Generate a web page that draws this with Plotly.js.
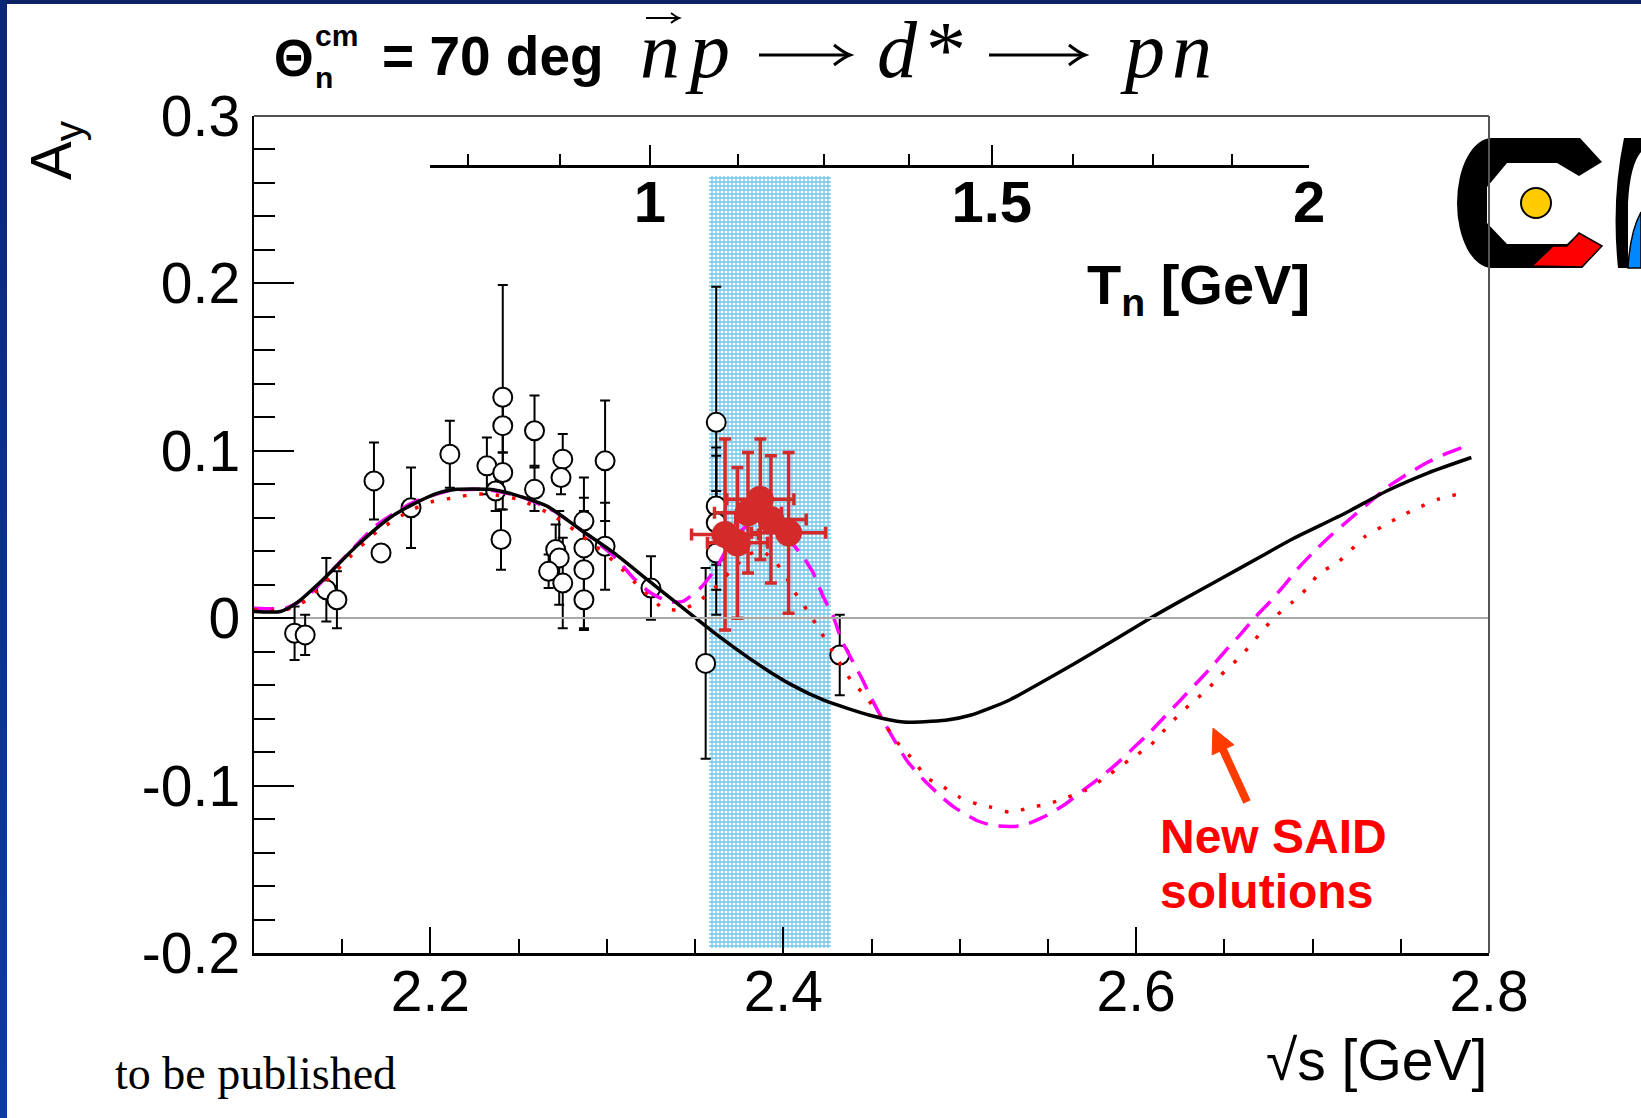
<!DOCTYPE html>
<html><head><meta charset="utf-8">
<script src="https://cdn.plot.ly/plotly-3.0.1.min.js"></script>
<style>
html,body{margin:0;padding:0;background:#fff;}
#chart{width:1641px;height:1118px;position:absolute;left:0;top:0;}
#bandTop{position:absolute;left:0;top:0;width:1641px;height:4px;background:#0d2262;}
#bandLeft{position:absolute;left:0;top:0;width:7px;height:1118px;background:linear-gradient(#0b2675,#0b3ca8);}
</style></head><body>
<div id="chart"></div>
<div id="bandTop"></div><div id="bandLeft"></div>
<script>
// ---- data: older open-circle measurements (sqrt(s), Ay, error)
const dataX = [2.123, 2.129, 2.141, 2.147, 2.168, 2.172, 2.189, 2.211, 2.232, 2.237, 2.241, 2.241, 2.241, 2.240,
               2.259, 2.259, 2.275, 2.274, 2.299, 2.299, 2.287, 2.287, 2.287, 2.287, 2.271, 2.273, 2.267, 2.275,
               2.325, 2.362, 2.356, 2.362, 2.362, 2.362, 2.432];
const dataY = [-0.009, -0.010, 0.017, 0.011, 0.082, 0.039, 0.066, 0.098, 0.091, 0.076, 0.132, 0.115, 0.087, 0.047,
               0.112, 0.077, 0.095, 0.084, 0.094, 0.043, 0.058, 0.042, 0.029, 0.011, 0.041, 0.036, 0.028, 0.021,
               0.018, 0.117, -0.027, 0.067, 0.057, 0.039, -0.022];
const dataErr = [0.016, 0.012, 0.019, 0.017, 0.023, 0.0, 0.024, 0.020, 0.017, 0.012, 0.067, 0.016, 0.012, 0.018,
                 0.021, 0.013, 0.015, 0.010, 0.036, 0.026, 0.026, 0.030, 0.035, 0.018, 0.015, 0.028, 0.010, 0.027,
                 0.019, 0.081, 0.057, 0.035, 0.040, 0.037, 0.024];

// ---- new WASA measurements (red)
const wasaX    = [2.367, 2.374, 2.380, 2.387, 2.393, 2.403];
const wasaY    = [0.050, 0.045, 0.063, 0.071, 0.059, 0.051];
const wasaErrX = [0.019, 0.017, 0.019, 0.019, 0.020, 0.021];
const wasaErrY = [0.057, 0.045, 0.036, 0.036, 0.038, 0.048];

// ---- curves
const saidOldX = [2.100, 2.115, 2.124, 2.139, 2.158, 2.177, 2.190, 2.205, 2.215, 2.233, 2.247, 2.266, 2.285, 2.304,
                  2.323, 2.342, 2.360, 2.385, 2.405, 2.423, 2.449, 2.468, 2.492, 2.506, 2.528, 2.552, 2.575, 2.608,
                  2.623, 2.647, 2.671, 2.688, 2.719, 2.742, 2.766, 2.790];
const saidOldY = [0.004, 0.004, 0.009, 0.023, 0.043, 0.060, 0.068, 0.075, 0.077, 0.077, 0.074, 0.067, 0.053, 0.039,
                  0.023, 0.007, -0.008, -0.027, -0.040, -0.049, -0.058, -0.062, -0.061, -0.058, -0.049, -0.035, -0.021, 0.000,
                  0.009, 0.023, 0.037, 0.047, 0.063, 0.076, 0.087, 0.096];

const saidNew1X = [2.100, 2.118, 2.130, 2.150, 2.170, 2.190, 2.210, 2.230, 2.250, 2.270, 2.290, 2.305, 2.315, 2.325,
                   2.335, 2.343, 2.353, 2.362, 2.370, 2.378, 2.387, 2.395, 2.403, 2.411, 2.417, 2.423, 2.428, 2.433,
                   2.440, 2.445, 2.450, 2.456, 2.463, 2.470, 2.480, 2.490, 2.497, 2.510, 2.520, 2.535, 2.547, 2.560,
                   2.571, 2.581, 2.590, 2.599, 2.608, 2.616, 2.626, 2.634, 2.642, 2.651, 2.658, 2.667, 2.676, 2.685,
                   2.692, 2.702, 2.711, 2.722, 2.732, 2.742, 2.752, 2.765, 2.775, 2.790];
const saidNew1Y = [0.006, 0.006, 0.013, 0.035, 0.056, 0.069, 0.076, 0.077, 0.073, 0.064, 0.049, 0.036, 0.024, 0.015,
                   0.010, 0.010, 0.018, 0.030, 0.045, 0.054, 0.058, 0.055, 0.047, 0.037, 0.027, 0.012, 0.002, -0.013,
                   -0.027, -0.037, -0.048, -0.060, -0.073, -0.085, -0.097, -0.107, -0.113, -0.121, -0.124, -0.124, -0.119, -0.111,
                   -0.102, -0.094, -0.086, -0.077, -0.068, -0.059, -0.048, -0.039, -0.030, -0.019, -0.011, 0.000, 0.010, 0.021,
                   0.030, 0.041, 0.050, 0.060, 0.069, 0.078, 0.085, 0.093, 0.098, 0.104];

const saidNew2X = [2.100, 2.118, 2.130, 2.150, 2.170, 2.190, 2.202, 2.214, 2.224, 2.234, 2.250, 2.270, 2.290, 2.305,
                   2.320, 2.332, 2.342, 2.352, 2.361, 2.370, 2.380, 2.388, 2.396, 2.403, 2.408, 2.414, 2.420, 2.428,
                   2.439, 2.447, 2.456, 2.466, 2.474, 2.481, 2.491, 2.500, 2.510, 2.518, 2.529, 2.540, 2.550, 2.561,
                   2.571, 2.584, 2.597, 2.608, 2.615, 2.623, 2.631, 2.640, 2.648, 2.657, 2.665, 2.671, 2.680, 2.689,
                   2.697, 2.704, 2.714, 2.722, 2.730, 2.740, 2.750, 2.760, 2.771, 2.782];
const saidNew2Y = [0.005, 0.005, 0.011, 0.032, 0.052, 0.065, 0.070, 0.072, 0.074, 0.074, 0.071, 0.061, 0.046, 0.033,
                   0.017, 0.006, 0.005, 0.010, 0.018, 0.028, 0.038, 0.040, 0.033, 0.022, 0.013, 0.004, -0.006, -0.020,
                   -0.038, -0.047, -0.061, -0.076, -0.085, -0.095, -0.101, -0.107, -0.111, -0.113, -0.116, -0.113, -0.111, -0.107,
                   -0.103, -0.094, -0.084, -0.076, -0.068, -0.059, -0.051, -0.043, -0.034, -0.025, -0.016, -0.008, 0.002, 0.010,
                   0.018, 0.027, 0.033, 0.041, 0.049, 0.055, 0.061, 0.066, 0.071, 0.074];

// ---- d* resonance band (sqrt(s) range, Ay range)
const bandX = [2.358, 2.427];
const bandY = [-0.197, 0.264];

// ---- ticks
const xTickVals = [2.2, 2.4, 2.6, 2.8];
const xTickText = ['2.2', '2.4', '2.6', '2.8'];
const yTickVals = [-0.2, -0.1, 0, 0.1, 0.2, 0.3];
const yTickText = ['-0.2', '-0.1', '0', '0.1', '0.2', '0.3'];
const tnTickVals = [1, 1.5, 2];
const tnTickText = ['1', '1.5', '2'];
const tnMinorVals = [0.75, 0.875, 1.125, 1.25, 1.375, 1.625, 1.75, 1.875];
const tnRange = [0.7, 2.0];

// kinematics: sqrt(s) for n p with neutron kinetic energy T (GeV)
const mp = 0.93827, mn = 0.93957;
function sqrtS(T) { return Math.sqrt((mp + mn) * (mp + mn) + 2 * mp * T); }

// ---- page geometry (pixels)
const L = 254, TOP = 116, W = 1235, H = 837, FW = 1641, FH = 1118;
const px = x => (x - L) / W;
const py = y => 1 - (y - TOP) / H;
const XR = [2.1, 2.8];

const sans = 'Liberation Sans, Arial, Helvetica, sans-serif';
const serif = 'Liberation Serif, Times New Roman, serif';

const traces = [];
// dummy for the Tn axis
traces.push({x: [sqrtS(1)], y: [null], xaxis: 'x2', yaxis: 'y', mode: 'markers', showlegend: false, hoverinfo: 'skip'});
traces.push({
  x: dataX, y: dataY, mode: 'markers', type: 'scatter', showlegend: false,
  marker: {symbol: 'circle', size: 19, color: 'white', line: {color: 'black', width: 2}},
  error_y: {type: 'data', array: dataErr, color: 'black', thickness: 2, width: 5}
});
traces.push({x: saidNew1X, y: saidNew1Y, mode: 'lines', line: {color: '#ff00ff', width: 3.5, dash: '20px,11px', shape: 'spline', smoothing: 0.6}, showlegend: false});
traces.push({x: saidNew2X, y: saidNew2Y, mode: 'lines', line: {color: '#ff0000', width: 3.5, dash: '3.5px,13px', shape: 'spline', smoothing: 0.6}, showlegend: false});
traces.push({x: saidOldX, y: saidOldY, mode: 'lines', line: {color: 'black', width: 3.5, shape: 'spline', smoothing: 0.6}, showlegend: false});
traces.push({
  x: wasaX, y: wasaY, mode: 'markers', showlegend: false,
  marker: {symbol: 'circle', size: 27, color: '#d42a2a'},
  error_y: {type: 'data', array: wasaErrY, color: '#d42a2a', thickness: 3.5, width: 6},
  error_x: {type: 'data', array: wasaErrX, color: '#d42a2a', thickness: 3.5, width: 6}
});
traces.push({
  type: 'bar', x: [(bandX[0] + bandX[1]) / 2], y: [bandY[1] - bandY[0]], base: [bandY[0]],
  width: [bandX[1] - bandX[0]], showlegend: false, hoverinfo: 'skip',
  marker: {color: 'rgba(0,0,0,0)', line: {width: 0},
           pattern: {shape: '+', fgcolor: '#74c5ea', bgcolor: 'rgba(255,255,255,0)', size: 4, solidity: 0.55}}
});

const logoSvg = '<svg xmlns="http://www.w3.org/2000/svg" width="201" height="155" viewBox="1440 125 201 155">' +
  '<path d="M1492,138 L1580,138 L1602,162 L1579,176 L1557,163 L1507,163 L1487,187 L1487,223 L1507,244 L1567,244 L1579,233 L1602,246 L1582,268 L1492,268 A35,65 0 0 1 1492,138 Z" fill="#000"/>' +
  '<path d="M1532,266 L1553,246 L1567,246 L1579,233 L1602,246 L1582,267 Z" fill="#ff0000" stroke="#000" stroke-width="1.5"/>' +
  '<circle cx="1536" cy="203" r="15" fill="#ffcc00" stroke="#000" stroke-width="2"/>' +
  '<path d="M1624,138 L1641,138 L1641,152 Q1630,165 1628,203 L1628,268 L1618,268 Q1611,200 1624,138 Z" fill="#000"/>' +
  '<path d="M1628,268 L1641,268 L1641,212 Q1630,232 1628,268 Z" fill="#0088ff" stroke="#000" stroke-width="1.5"/>' +
  '</svg>';

// ---- decorative arrows as shapes (pixel positions converted to paper)
const shapes = [
  {type: 'line', xref: 'paper', yref: 'paper', x0: 0, x1: 1, y0: 1, y1: 1, line: {color: '#555', width: 2}},
  {type: 'line', xref: 'paper', yref: 'paper', x0: 1, x1: 1, y0: 0, y1: 1, line: {color: '#555', width: 2}}
];
function P(x, y) { return px(x).toFixed(5) + ',' + py(y).toFixed(5); }
function textArrow(x0, x1, y, headLen, headHalf, width) {
  shapes.push({type: 'path', xref: 'paper', yref: 'paper', path: 'M' + P(x0, y) + ' L' + P(x1, y),
               line: {color: '#000', width: width}});
  shapes.push({type: 'path', xref: 'paper', yref: 'paper',
               path: 'M' + P(x1 - headLen, y - headHalf) + ' Q' + P(x1 - headLen * 0.35, y - headHalf * 0.2) + ' ' + P(x1, y) +
                     ' Q' + P(x1 - headLen * 0.35, y + headHalf * 0.2) + ' ' + P(x1 - headLen, y + headHalf),
               line: {color: '#000', width: width}});
}
textArrow(646, 679, 18, 8, 5, 2);     // vector arrow over n
textArrow(759, 850, 55, 16, 10, 3);   // first arrow
textArrow(989, 1085, 55, 16, 10, 3);  // second arrow
(function () {
  // red "New SAID" pointer arrow: tail -> tip
  const tx = 1247, ty = 802, hx = 1213, hy = 728, hl = 24, hh = 12;
  const len = Math.hypot(hx - tx, hy - ty), ux = (hx - tx) / len, uy = (hy - ty) / len;
  const bx = hx - hl * ux, by = hy - hl * uy, nx = -uy, ny = ux;
  shapes.push({type: 'path', xref: 'paper', yref: 'paper', path: 'M' + P(tx, ty) + ' L' + P(bx + ux * 2, by + uy * 2),
               line: {color: '#ff3c00', width: 8}});
  shapes.push({type: 'path', xref: 'paper', yref: 'paper', fillcolor: '#ff3c00',
               path: 'M' + P(hx, hy) + ' L' + P(bx + hh * nx, by + hh * ny) + ' L' + P(bx - hh * nx, by - hh * ny) + ' Z',
               line: {color: '#ff3c00', width: 1}});
})();

const ann = [];
function A(o) { ann.push(Object.assign({xref: 'paper', yref: 'paper', showarrow: false, xanchor: 'left', yanchor: 'middle'}, o)); }
// title
A({x: px(272), y: py(58), text: '<b>Θ</b>', font: {family: sans, size: 51, color: '#000'}});
A({x: px(313), y: py(35), text: '<b>cm</b>', font: {family: sans, size: 30, color: '#000'}});
A({x: px(313), y: py(78), text: '<b>n</b>', font: {family: sans, size: 30, color: '#000'}});
A({x: px(380), y: py(56), text: '<b>= 70 deg</b>', font: {family: sans, size: 55, color: '#000'}});
const formulaFont = {family: serif, size: 80, color: '#000'};
[['n', 660], ['p', 707], ['d', 897], ['*', 946], ['p', 1142], ['n', 1192]].forEach(function (g) {
  A({x: px(g[1]), y: py(50), xanchor: 'center', text: g[0] === '*' ? '*' : '<i>' + g[0] + '</i>', font: formulaFont});
});
// axes titles & notes
A({x: px(55), y: py(150), xanchor: 'center', text: 'A<sub>y</sub>', textangle: -90, font: {family: sans, size: 58, color: '#000'}});
A({x: px(1489), y: py(1060), xanchor: 'right', text: '√s [GeV]', font: {family: sans, size: 57, color: '#000'}});
A({x: px(1312), y: py(288), xanchor: 'right', text: '<b>T<sub>n</sub> [GeV]</b>', font: {family: sans, size: 56, color: '#000'}});
A({x: px(113), y: py(1073), text: 'to be published', font: {family: serif, size: 46, color: '#000'}});
A({x: px(1158), y: py(836), text: '<b>New SAID</b>', font: {family: sans, size: 48, color: '#ff0000'}});
A({x: px(1158), y: py(891), text: '<b>solutions</b>', font: {family: sans, size: 48, color: '#ff0000'}});

const tickFont = {family: sans, size: 57, color: '#000'};
const layout = {
  width: FW, height: FH,
  margin: {l: L, r: FW - L - W, t: TOP, b: FH - TOP - H, pad: 0},
  paper_bgcolor: '#ffffff', plot_bgcolor: 'rgba(0,0,0,0)',
  showlegend: false, bargap: 0,
  xaxis: {
    range: XR, tickmode: 'array', tickvals: xTickVals, ticktext: xTickText,
    ticks: 'inside', ticklen: 26, tickwidth: 2, tickcolor: '#000', ticklabelstandoff: -13,
    showline: true, linecolor: '#000', linewidth: 2.5, showgrid: false, zeroline: false,
    tickfont: tickFont,
    minor: {tickmode: 'linear', tick0: 2.1, dtick: 0.05, ticks: 'inside', ticklen: 14, tickwidth: 2, tickcolor: '#000', showgrid: false}
  },
  xaxis2: {
    domain: [(sqrtS(tnRange[0]) - XR[0]) / (XR[1] - XR[0]), (sqrtS(tnRange[1]) - XR[0]) / (XR[1] - XR[0])],
    range: [sqrtS(tnRange[0]), sqrtS(tnRange[1])],
    anchor: 'free', position: py(166), side: 'bottom',
    tickmode: 'array', tickvals: tnTickVals.map(sqrtS), ticktext: tnTickText,
    ticks: 'inside', ticklen: 20, tickwidth: 2, tickcolor: '#000', ticklabelstandoff: -15,
    showline: true, linecolor: '#000', linewidth: 2.5, showgrid: false, zeroline: false,
    tickfont: {family: sans, size: 58, color: '#000', weight: 'bold'},
    minor: {tickmode: 'array', tickvals: tnMinorVals.map(sqrtS), ticks: 'inside', ticklen: 11, tickwidth: 2, tickcolor: '#000', showgrid: false}
  },
  yaxis: {
    range: [-0.2, 0.3], tickmode: 'array', tickvals: yTickVals, ticktext: yTickText,
    ticks: 'inside', ticklen: 40, tickwidth: 2, tickcolor: '#000',
    showline: true, linecolor: '#000', linewidth: 2.5, showgrid: false,
    zeroline: true, zerolinecolor: '#a8a8a8', zerolinewidth: 2,
    tickfont: tickFont,
    minor: {tickmode: 'linear', tick0: -0.2, dtick: 0.02, ticks: 'inside', ticklen: 21, tickwidth: 2, tickcolor: '#000', showgrid: false}
  },
  shapes: shapes,
  images: [{
    source: 'data:image/svg+xml;charset=utf-8,' + encodeURIComponent(logoSvg),
    xref: 'paper', yref: 'paper', x: px(1440), y: py(125), sizex: 201 / W, sizey: 155 / H,
    xanchor: 'left', yanchor: 'top', sizing: 'stretch', layer: 'above'
  }],
  annotations: ann
};
Plotly.newPlot('chart', traces, layout, {displayModeBar: false, staticPlot: true});
</script></body></html>
